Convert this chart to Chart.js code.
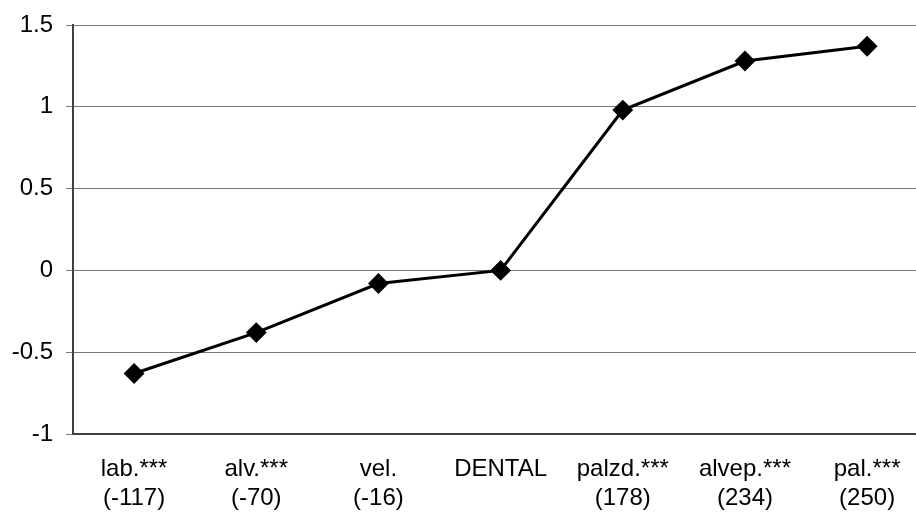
<!DOCTYPE html>
<html>
<head>
<meta charset="utf-8">
<script src="https://cdn.jsdelivr.net/npm/chart.js@4/dist/chart.umd.min.js"></script>
<style>
  html, body { margin: 0; padding: 0; background: #fff; overflow: hidden; }
  #wrap { position: relative; width: 916px; height: 520px; }
</style>
</head>
<body>
<div id="wrap"><canvas id="myLineChart"></canvas></div>
<script>
// categories and their counts (second label line)
const places = ['lab.***', 'alv.***', 'vel.', 'DENTAL', 'palzd.***', 'alvep.***', 'pal.***'];
const counts = ['(-117)', '(-70)', '(-16)', '', '(178)', '(234)', '(250)'];
const values = [-0.63, -0.38, -0.08, 0, 0.98, 1.28, 1.37];
const yTicks = [-1, -0.5, 0, 0.5, 1, 1.5];

const labels = places.map((p, i) => counts[i] ? [p, counts[i]] : [p]);
const points = values.map((v, i) => ({ x: i, y: v }));
const font = '"Liberation Sans", Arial, sans-serif';

const ctx = document.getElementById('myLineChart').getContext('2d');
const myChart = new Chart(ctx, {
    type: 'line',
    data: {
        datasets: [{
            data: points,
            borderColor: '#000',
            borderWidth: 3,
            backgroundColor: '#000',
            pointStyle: 'rectRot',
            pointRadius: 9,
            pointBorderWidth: 2,
            pointBorderColor: '#000',
            pointBackgroundColor: '#000',
            tension: 0
        }]
    },
    options: {
        responsive: true,
        maintainAspectRatio: false,
        animation: false,
        layout: { autoPadding: false, padding: { top: 25, left: 0, right: 0, bottom: 0 } },
        plugins: { legend: { display: false }, tooltip: { enabled: false } },
        scales: {
            x: {
                type: 'linear',
                // the original plot is cut off a little on the right
                min: -0.5,
                max: 6.4,
                afterBuildTicks: (scale) => { scale.ticks = places.map((p, i) => ({ value: i })); },
                grid: { display: false, drawTicks: false },
                border: { display: true, color: '#404040', width: 2 },
                ticks: {
                    color: '#000',
                    padding: 21,
                    maxRotation: 0,
                    autoSkip: false,
                    font: { family: font, size: 24, lineHeight: 1.2 },
                    callback: (v) => labels[v]
                },
                afterFit: (scale) => {
                    scale.height = 86;
                    scale.paddingLeft = 0;
                    scale.paddingRight = 0;
                }
            },
            y: {
                min: -1,
                max: 1.5,
                afterBuildTicks: (scale) => { scale.ticks = yTicks.map(v => ({ value: v })); },
                grid: { color: '#787878', lineWidth: 1, tickLength: 7, drawTicks: true },
                border: { display: true, color: '#404040', width: 2 },
                ticks: {
                    color: '#000',
                    padding: 13,
                    font: { family: font, size: 24 },
                    callback: (v) => String(v)
                },
                afterFit: (scale) => {
                    scale.width = 73;
                    scale.paddingTop = 0;
                    scale.paddingBottom = 0;
                }
            }
        }
    }
});
</script>
</body>
</html>
